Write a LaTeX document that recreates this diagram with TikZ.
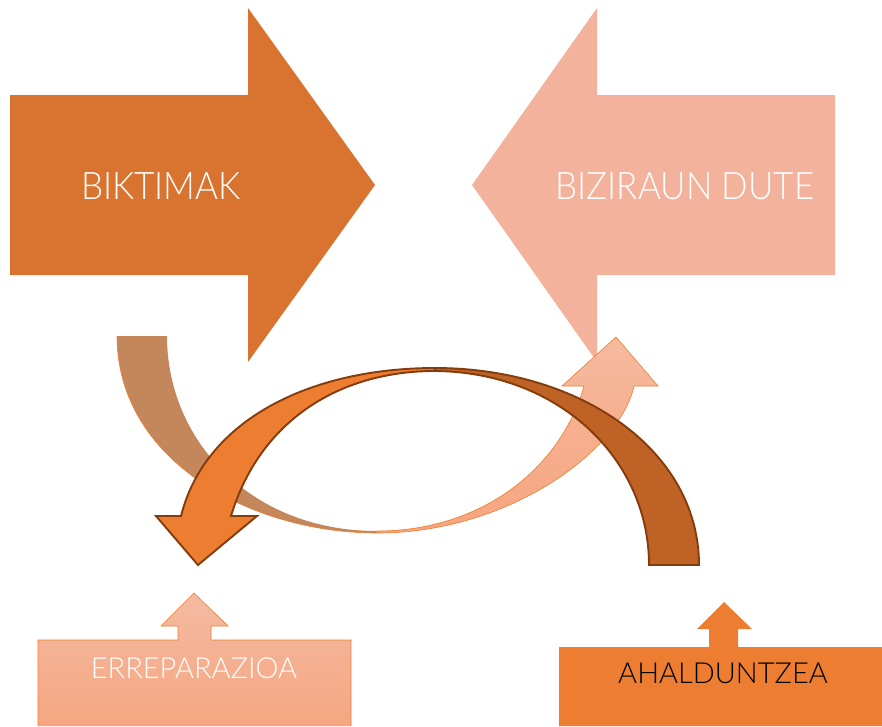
\documentclass[tikz,border=0pt]{standalone}
\usepackage{fontspec}
\newfontfamily\lightfont{Lato Light}
\newfontfamily\lightnarrow[FakeStretch=0.92]{Lato Light}
\definecolor{bigL}{HTML}{D97330}
\definecolor{bigR}{HTML}{F2B29B}
\definecolor{tanc}{HTML}{C4875B}
\definecolor{salT}{HTML}{F5BA9F}
\definecolor{salB}{HTML}{F7A47E}
\definecolor{orng}{HTML}{ED7D31}
\definecolor{darko}{HTML}{BF6226}
\definecolor{brownline}{HTML}{843C0C}
\definecolor{boxT}{HTML}{F4BBA2}
\definecolor{boxB}{HTML}{F5A681}
\tikzset{
  bigtext/.style={text=white, font=\lightnarrow\fontsize{38}{44}\selectfont, inner sep=0pt},
  smalltext/.style={font=\lightfont\fontsize{29}{34}\selectfont, inner sep=0pt},
  ribbon/.style={draw=brownline, line width=1.9pt, line join=miter},
  thinline/.style={draw=orng, line width=0.6pt},
}
\begin{document}
\begin{tikzpicture}[x=1pt,y=-1pt]
\useasboundingbox (0,0) rectangle (882,726);
% big arrows
\fill[bigL] (10,95) -- (248,95) -- (248,8) -- (375,185) -- (248,362) -- (248,275) -- (10,275) -- cycle;
\fill[bigR] (835,95) -- (597,95) -- (597,8) -- (472,185) -- (597,362) -- (597,275) -- (835,275) -- cycle;
\node[bigtext] (biktimak) at (161,186) {BIKTIMAK};
\node[bigtext] (biziraun) at (685,186) {BIZIRAUN DUTE};
% curved up arrow (tan + salmon)
\fill[tanc] (117,336) -- (167,336) .. controls (167,440) and (250,531) .. (377,531)
  -- (377,533) .. controls (250,533) and (117,460) .. (117,336) -- cycle;
\draw[thinline] (117,336) .. controls (117,460) and (250,533) .. (377,533);
\shade[top color=salT, bottom color=salB] (377,533) .. controls (510,533) and (620,450) .. (634,386)
  -- (658,386) -- (616,337) -- (562,386) -- (584,386)
  .. controls (560,470) and (480,531) .. (377,531) -- cycle;
\draw[thinline] (377,533) .. controls (510,533) and (620,450) .. (634,386)
  -- (658,386) -- (616,337) -- (562,386) -- (584,386)
  .. controls (560,470) and (480,531) .. (377,531);
% curved down arrow
\filldraw[fill=darko, ribbon] (435,368) .. controls (580,368) and (699,450) .. (699,565)
  -- (649,565) .. controls (649,460) and (560,372) .. (435,371) -- cycle;
\filldraw[fill=orng, ribbon] (435,368) .. controls (310,368) and (205,420) .. (181,516)
  -- (156,516) -- (198,565) -- (257,516) -- (231,516)
  .. controls (260,420) and (340,371) .. (435,371) -- cycle;
% bottom boxes
\shade[top color=boxT, bottom color=boxB] (38,640) -- (178,640) -- (178,626) -- (161,626) -- (194,593) -- (228,626) -- (211,626) -- (211,640) -- (351,640) -- (351,726) -- (38,726) -- cycle;
\draw[thinline] (38,726) -- (38,640) -- (178,640) -- (178,626) -- (161,626) -- (194,593) -- (228,626) -- (211,626) -- (211,640) -- (351,640) -- (351,726);
\node[smalltext, text=white] (errep) at (194,668) {ERREPARAZIOA};
\fill[orng] (559,647) -- (709,647) -- (709,629) -- (697,629) -- (724,602) -- (752,629) -- (738,629) -- (738,647) -- (882,647) -- (882,726) -- (559,726) -- cycle;
\node[smalltext, text=black] (ahald) at (723,673) {AHALDUNTZEA};
\end{tikzpicture}
\end{document}
